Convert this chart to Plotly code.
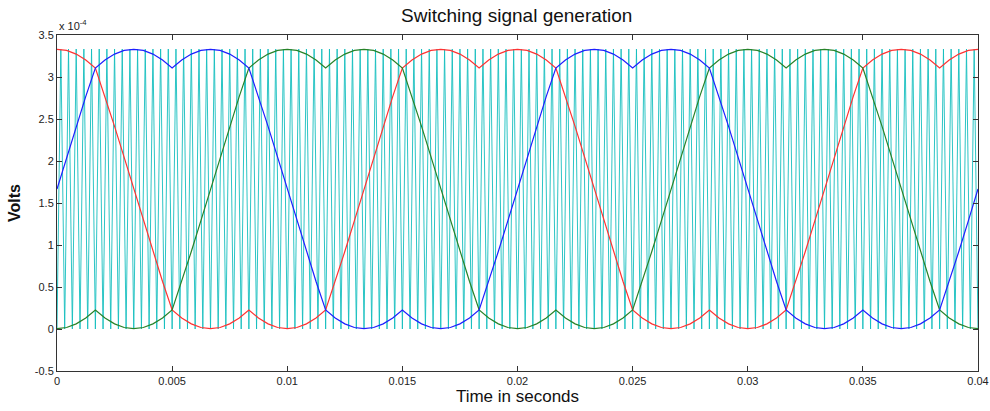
import plotly.graph_objects as go

# ---- data (values in units of 1e-4 V) ----
ref_step = 0.02 / 48          # sample spacing of the modulating signals (s)
carrier_step = 1 / 6000       # half carrier period (3 kHz carrier)

phase_blue = [
    1.667, 2.043, 2.412, 2.769, 3.107, 3.203, 3.273, 3.316, 3.330, 3.316, 3.273, 3.203,
    3.107, 3.203, 3.273, 3.316, 3.330, 3.316, 3.273, 3.203, 3.107, 2.769, 2.412, 2.043,
    1.667, 1.291, 0.922, 0.565, 0.227, 0.131, 0.061, 0.018, 0.004, 0.018, 0.061, 0.131,
    0.227, 0.131, 0.061, 0.018, 0.004, 0.018, 0.061, 0.131, 0.227, 0.565, 0.922, 1.291,
    1.667, 2.043, 2.412, 2.769, 3.107, 3.203, 3.273, 3.316, 3.330, 3.316, 3.273, 3.203,
    3.107, 3.203, 3.273, 3.316, 3.330, 3.316, 3.273, 3.203, 3.107, 2.769, 2.412, 2.043,
    1.667, 1.291, 0.922, 0.565, 0.227, 0.131, 0.061, 0.018, 0.004, 0.018, 0.061, 0.131,
    0.227, 0.131, 0.061, 0.018, 0.004, 0.018, 0.061, 0.131, 0.227, 0.565, 0.922, 1.291,
    1.667,
]

phase_red = [
    3.330, 3.316, 3.273, 3.203, 3.107, 2.769, 2.412, 2.043, 1.667, 1.291, 0.922, 0.565,
    0.227, 0.131, 0.061, 0.018, 0.004, 0.018, 0.061, 0.131, 0.227, 0.131, 0.061, 0.018,
    0.004, 0.018, 0.061, 0.131, 0.227, 0.565, 0.922, 1.291, 1.667, 2.043, 2.412, 2.769,
    3.107, 3.203, 3.273, 3.316, 3.330, 3.316, 3.273, 3.203, 3.107, 3.203, 3.273, 3.316,
    3.330, 3.316, 3.273, 3.203, 3.107, 2.769, 2.412, 2.043, 1.667, 1.291, 0.922, 0.565,
    0.227, 0.131, 0.061, 0.018, 0.004, 0.018, 0.061, 0.131, 0.227, 0.131, 0.061, 0.018,
    0.004, 0.018, 0.061, 0.131, 0.227, 0.565, 0.922, 1.291, 1.667, 2.043, 2.412, 2.769,
    3.107, 3.203, 3.273, 3.316, 3.330, 3.316, 3.273, 3.203, 3.107, 3.203, 3.273, 3.316,
    3.330,
]

phase_green = [
    0.004, 0.018, 0.061, 0.131, 0.227, 0.131, 0.061, 0.018, 0.004, 0.018, 0.061, 0.131,
    0.227, 0.565, 0.922, 1.291, 1.667, 2.043, 2.412, 2.769, 3.107, 3.203, 3.273, 3.316,
    3.330, 3.316, 3.273, 3.203, 3.107, 3.203, 3.273, 3.316, 3.330, 3.316, 3.273, 3.203,
    3.107, 2.769, 2.412, 2.043, 1.667, 1.291, 0.922, 0.565, 0.227, 0.131, 0.061, 0.018,
    0.004, 0.018, 0.061, 0.131, 0.227, 0.131, 0.061, 0.018, 0.004, 0.018, 0.061, 0.131,
    0.227, 0.565, 0.922, 1.291, 1.667, 2.043, 2.412, 2.769, 3.107, 3.203, 3.273, 3.316,
    3.330, 3.316, 3.273, 3.203, 3.107, 3.203, 3.273, 3.316, 3.330, 3.316, 3.273, 3.203,
    3.107, 2.769, 2.412, 2.043, 1.667, 1.291, 0.922, 0.565, 0.227, 0.131, 0.061, 0.018,
    0.004,
]

carrier_levels = [0.0, 3.333] * 120 + [0.0]

x_ticks = [0, 0.005, 0.01, 0.015, 0.02, 0.025, 0.03, 0.035, 0.04]
x_tick_labels = ["0", "0.005", "0.01", "0.015", "0.02", "0.025", "0.03", "0.035", "0.04"]
y_ticks = [-0.5, 0, 0.5, 1, 1.5, 2, 2.5, 3, 3.5]
y_tick_labels = ["-0.5", "0", "0.5", "1", "1.5", "2", "2.5", "3", "3.5"]

# ---- figure ----
fig = go.Figure()
fig.add_trace(go.Scatter(y=carrier_levels, x0=0, dx=carrier_step, mode="lines",
                         line=dict(color="rgb(20,190,190)", width=0.9), hoverinfo="skip"))
fig.add_trace(go.Scatter(y=phase_red, x0=0, dx=ref_step, mode="lines",
                         line=dict(color="rgb(255,50,50)", width=1.2)))
fig.add_trace(go.Scatter(y=phase_green, x0=0, dx=ref_step, mode="lines",
                         line=dict(color="rgb(40,130,40)", width=1.2)))
fig.add_trace(go.Scatter(y=phase_blue, x0=0, dx=ref_step, mode="lines",
                         line=dict(color="rgb(30,30,255)", width=1.2)))

axis_common = dict(showline=True, linecolor="#333333", linewidth=1, mirror="ticks",
                   ticks="inside", ticklen=5, tickcolor="#333333", showgrid=False,
                   zeroline=False, automargin=False, ticklabeloverflow="allow",
                   tickfont=dict(family="Liberation Sans, Arial", size=11, color="#222222"))

fig.update_layout(
    width=990, height=411,
    margin=dict(l=57, r=12, t=35, b=40),
    paper_bgcolor="white", plot_bgcolor="white",
    showlegend=False,
    title=dict(text="Switching signal generation", x=0.522, xanchor="center",
               y=0.978, yanchor="top",
               font=dict(family="Liberation Sans, Arial", size=19, color="#111111")),
    xaxis=dict(range=[0, 0.04], tickvals=x_ticks, ticktext=x_tick_labels,
               title=dict(text="Time in seconds", standoff=2,
                          font=dict(family="Liberation Sans, Arial", size=17, color="#111111")),
               **axis_common),
    yaxis=dict(range=[-0.5, 3.5], tickvals=y_ticks, ticktext=y_tick_labels,
               title=dict(text="<b>Volts</b>", standoff=10,
                          font=dict(family="Liberation Sans, Arial", size=16, color="#111111")),
               **axis_common),
    annotations=[dict(text="x 10<sup>-4</sup>", xref="paper", yref="paper", x=0, y=1,
                      xanchor="left", yanchor="bottom", showarrow=False, yshift=1,
                      font=dict(family="Liberation Sans, Arial", size=11, color="#222222"))],
)

fig.write_html("out.html",
               config={"displayModeBar": False, "staticPlot": True},
               post_script="document.body.style.margin='0px';"
                           "document.body.style.overflow='hidden';")
